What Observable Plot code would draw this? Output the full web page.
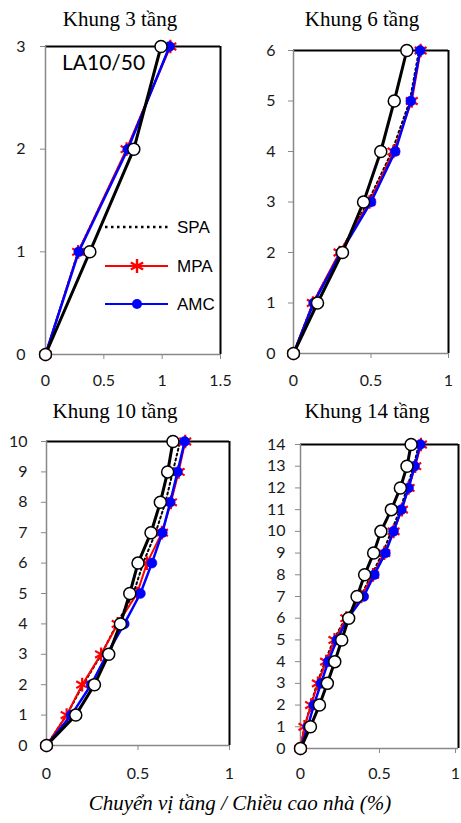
<!DOCTYPE html>
<html>
<head>
<meta charset="utf-8">
<script src="https://cdn.jsdelivr.net/npm/d3@7"></script>
<script src="https://cdn.jsdelivr.net/npm/@observablehq/plot@0.6"></script>
<style>
  html, body { margin: 0; padding: 0; background: #fff; }
  #wrap { position: relative; width: 461px; height: 823px; overflow: hidden; }
  #wrap svg { position: absolute; }
</style>
</head>
<body>
<div id="wrap"></div>
<script>
// ---- data ----
const titles = ["Khung 3 tầng", "Khung 6 tầng", "Khung 10 tầng", "Khung 14 tầng"];
const seriesNames = ["SPA", "MPA", "AMC"];
const caseLabel = "LA10/50";
const axisTitle = "Chuyển vị tầng / Chiều cao nhà (%)";

const floors3 = [0, 1, 2, 3];
const ref3 = [0, 0.38, 0.757, 0.99];
const spa3 = [0, 0.28, 0.70, 1.065];
const mpa3 = [0, 0.28, 0.695, 1.07];
const amc3 = [0, 0.285, 0.705, 1.063];
const xTicks3 = [0, 0.5, 1, 1.5];

const floors6 = [0, 1, 2, 3, 4, 5, 6];
const ref6 = [0, 0.155, 0.316, 0.452, 0.563, 0.65, 0.731];
const spa6 = [0, 0.125, 0.30, 0.48, 0.635, 0.75, 0.81];
const mpa6 = [0, 0.125, 0.297, 0.49, 0.645, 0.763, 0.82];
const amc6 = [0, 0.13, 0.305, 0.50, 0.656, 0.757, 0.817];
const xTicks6 = [0, 0.5, 1];

const floors10 = [0, 1, 2, 3, 4, 5, 6, 7, 8, 9, 10];
const ref10 = [0, 0.16, 0.262, 0.34, 0.404, 0.455, 0.50, 0.571, 0.622, 0.662, 0.691];
const spa10 = [0, 0.11, 0.20, 0.30, 0.385, 0.475, 0.528, 0.596, 0.65, 0.69, 0.73];
const mpa10 = [0, 0.11, 0.195, 0.298, 0.389, 0.495, 0.549, 0.631, 0.68, 0.722, 0.758];
const amc10 = [0, 0.135, 0.244, 0.33, 0.425, 0.513, 0.576, 0.633, 0.676, 0.716, 0.755];
const xTicks10 = [0, 0.5, 1];

const floors14 = [0, 1, 2, 3, 4, 5, 6, 7, 8, 9, 10, 11, 12, 13, 14];
const ref14 = [0, 0.063, 0.12, 0.17, 0.217, 0.261, 0.305, 0.358, 0.406, 0.463, 0.509, 0.575, 0.632, 0.674, 0.70];
const spa14 = [0, 0.025, 0.065, 0.105, 0.155, 0.21, 0.285, 0.38, 0.45, 0.52, 0.575, 0.63, 0.675, 0.715, 0.75];
const mpa14 = [0, 0.025, 0.067, 0.11, 0.162, 0.215, 0.29, 0.385, 0.459, 0.53, 0.589, 0.642, 0.684, 0.726, 0.762];
const amc14 = [0, 0.046, 0.084, 0.13, 0.175, 0.23, 0.30, 0.40, 0.467, 0.537, 0.589, 0.638, 0.684, 0.722, 0.758];
const xTicks14 = [0, 0.5, 1];

// ---- layout ----
const panels = [
  {title: titles[0], floors: floors3, ref: ref3, spa: spa3, mpa: mpa3, amc: amc3, xTicks: xTicks3, xmax: 1.5,
   left: 0, top: 0, width: 232, height: 400, mL: 45, mR: 12, mT: 46, mB: 46, xPad: 15, yPad: 15, tx: 120, ty: 26, lastDx: 0},
  {title: titles[1], floors: floors6, ref: ref6, spa: spa6, mpa: mpa6, amc: amc6, xTicks: xTicks6, xmax: 1,
   left: 232, top: 0, width: 229, height: 400, mL: 61, mR: 13, mT: 50, mB: 47, xPad: 16, yPad: 13, tx: 362, ty: 26, lastDx: 0},
  {title: titles[2], floors: floors10, ref: ref10, spa: spa10, mpa: mpa10, amc: amc10, xTicks: xTicks10, xmax: 1,
   left: 0, top: 400, width: 232, height: 380, mL: 46, mR: 3, mT: 41, mB: 35, xPad: 17, yPad: 14, tx: 115, ty: 418, lastDx: 0},
  {title: titles[3], floors: floors14, ref: ref14, spa: spa14, mpa: mpa14, amc: amc14, xTicks: xTicks14, xmax: 1,
   left: 232, top: 400, width: 229, height: 380, mL: 68, mR: 3, mT: 44, mB: 32, xPad: 14, yPad: 10, tx: 367, ty: 418, lastDx: -3}
];

const wrap = document.getElementById("wrap");
const rows = (floors, vals) => floors.map((f, i) => ({floor: f, value: vals[i]}));

for (const p of panels) {
  const n = p.floors[p.floors.length - 1];
  const inner = p.xTicks.slice(0, -1);
  const last = p.xTicks.slice(-1);
  const axisOpts = {tickSize: 5, tickPadding: p.xPad, stroke: "#888", fill: "#1a1a1a", tickFormat: d => String(d), label: null, fontSize: 16};
  const chart = Plot.plot({
    width: p.width, height: p.height,
    marginLeft: p.mL, marginRight: p.mR, marginTop: p.mT, marginBottom: p.mB,
    x: {domain: [0, p.xmax]},
    y: {domain: [0, n]},
    style: {fontFamily: "Lato, sans-serif", fontSize: "16px", color: "#1a1a1a", background: "transparent", overflow: "visible"},
    marks: [
      Plot.ruleY([n], {stroke: "#000", strokeWidth: 2}),
      Plot.ruleX([p.xmax], {stroke: "#000", strokeWidth: 2}),
      Plot.axisX(inner, axisOpts),
      Plot.axisX(last, {...axisOpts, dx: p.lastDx}),
      Plot.axisY(p.floors, {tickSize: 5, tickPadding: p.yPad, stroke: "#888", fill: "#1a1a1a", tickFormat: d => String(d), label: null, fontSize: 16}),
      Plot.ruleX([0], {stroke: "#888", strokeWidth: 1.5}),
      Plot.ruleY([0], {stroke: "#888", strokeWidth: 1.5}),
      // SPA dotted
      Plot.line(rows(p.floors, p.spa), {x: "value", y: "floor", stroke: "#000", strokeWidth: 2, strokeDasharray: "2,3"}),
      // MPA
      Plot.line(rows(p.floors, p.mpa), {x: "value", y: "floor", stroke: "#ff0000", strokeWidth: 2}),
      Plot.dot(rows(p.floors, p.mpa), {x: "value", y: "floor", symbol: "asterisk", r: 6.5, stroke: "#ff0000", strokeWidth: 2.2}),
      // AMC
      Plot.line(rows(p.floors, p.amc), {x: "value", y: "floor", stroke: "#0000ff", strokeWidth: 2.5}),
      Plot.dot(rows(p.floors, p.amc), {x: "value", y: "floor", r: 5, fill: "#0000ff", stroke: "#0000ff", strokeWidth: 0.5}),
      // reference solution (black, open circles)
      Plot.line(rows(p.floors, p.ref), {x: "value", y: "floor", stroke: "#000", strokeWidth: 3}),
      Plot.dot(rows(p.floors, p.ref), {x: "value", y: "floor", r: 6, fill: "#fff", stroke: "#000", strokeWidth: 1.5})
    ]
  });
  chart.style.left = p.left + "px";
  chart.style.top = p.top + "px";
  wrap.appendChild(chart);
}

// ---- text overlay: titles, legend, case label, axis title ----
const ov = d3.select(wrap).append("svg")
  .attr("width", 461).attr("height", 823)
  .style("left", "0px").style("top", "0px")
  .style("pointer-events", "none");

ov.selectAll("text.title").data(panels).join("text")
  .attr("class", "title")
  .attr("x", d => d.tx).attr("y", d => d.ty)
  .attr("text-anchor", "middle")
  .attr("font-family", "'Liberation Serif', 'Times New Roman', serif")
  .attr("font-size", 21)
  .attr("fill", "#000")
  .text(d => d.title);

ov.append("text")
  .attr("x", 62).attr("y", 70)
  .attr("font-family", "Lato, sans-serif")
  .attr("font-size", 21)
  .attr("fill", "#000")
  .text(caseLabel);

const legY = [227, 266, 304];
const leg = ov.append("g");
seriesNames.forEach((name, i) => {
  const y = legY[i];
  if (name === "SPA") {
    leg.append("line").attr("x1", 105).attr("x2", 168).attr("y1", y).attr("y2", y)
      .attr("stroke", "#000").attr("stroke-width", 2.5).attr("stroke-dasharray", "2.5,3.5");
  } else if (name === "MPA") {
    leg.append("line").attr("x1", 105).attr("x2", 168).attr("y1", y).attr("y2", y)
      .attr("stroke", "#ff0000").attr("stroke-width", 2);
    leg.append("path").attr("transform", `translate(137,${y})`)
      .attr("d", d3.symbol(d3.symbolAsterisk, 140)())
      .attr("stroke", "#ff0000").attr("stroke-width", 2.4).attr("fill", "none");
  } else {
    leg.append("line").attr("x1", 105).attr("x2", 168).attr("y1", y).attr("y2", y)
      .attr("stroke", "#0000ff").attr("stroke-width", 2);
    leg.append("circle").attr("cx", 137).attr("cy", y).attr("r", 5).attr("fill", "#0000ff");
  }
  leg.append("text").attr("x", 177).attr("y", y + 6)
    .attr("font-family", "'Liberation Sans', Arial, sans-serif")
    .attr("font-size", 17).attr("fill", "#000")
    .text(name);
});

ov.append("text")
  .attr("x", 240).attr("y", 810)
  .attr("text-anchor", "middle")
  .attr("font-family", "'Liberation Serif', 'Times New Roman', serif")
  .attr("font-style", "italic")
  .attr("font-size", 21)
  .attr("fill", "#000")
  .text(axisTitle);
</script>
</body>
</html>
